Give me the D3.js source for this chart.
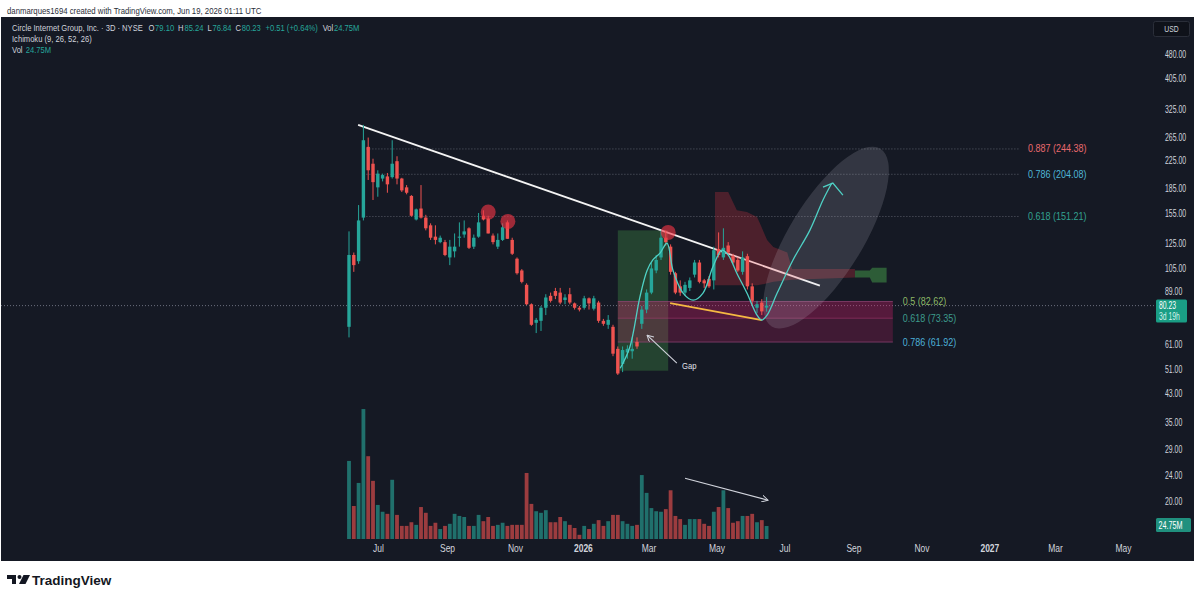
<!DOCTYPE html>
<html>
<head>
<meta charset="utf-8">
<script src="https://cdn.jsdelivr.net/npm/d3@7"></script>
<style>
html,body{margin:0;padding:0;background:#fff;}
svg{display:block;}
text{font-family:"Liberation Sans",Arial,sans-serif;}
</style>
</head>
<body>
<svg id="chart" width="1200" height="600"></svg>
<script>
// ---------------- DATA ----------------
const opens  = [69,115,110,150,248,220,186,198,201,200,224,198,186,175,148,160,150,142,131,126,126,113,118,130,133,139,122,131,152,149,132,122,128,145,128,112,103,93,81,71,72,79,86,89,88,83.5,87,81.5,79,79,84.5,78.5,82,72,70,69,59,53,57.5,58,62,70.5,78,88,103,113,130,122,101,92,88,91,100,109,96,97,96,120,113,123,114,111,102,114,92,79,82,79.10];
const highs  = [136,117,164,290,265,228,210,205,206,260,232,199,189,176,160,189,153,144,142,132,128,128,134,145,147,140,133,155,158,152,134,134,144,147,130,113,104,94,81.5,73.5,80,87,88,91,91,87,91,82,80,86,85,86,83,73,75,70,60,60,60.5,64,64,80,90,109,115,137,137,124,102,96,95,98,111,111,97,99,122,135,139,126,116,113,118,116,94,83,84,85.24];
const lows   = [64,102,108,147,196,170,174,194,179,198,190,180,177,151,147,149,137,128,124,125,114,107,113,122,130,120,120,130,147,134,124,120,127,129,115,100,94,80.5,69.5,66,67,75,82,84,81,81,81,78,77,78,78,77.5,71,69.5,68,56,49,50,55,55,59,68,76,87,101,111,123,100,87,86,86,89,98,94,91,91,90,113,111,116,108,102,100,90,80,76,75,76.84];
const closes = [115,107,147,260,210,193,205,203,190,220,198,182,179,152,159,150,139,130,128,130,115,122,122,131,136,121,130,145,148,134,126,128,140,129,116,101,95,81,70,72.5,79,85,83,86,82,85,82,79,78,84.5,81.5,84.5,72,70.5,72.5,57,49.5,58.5,59,59,60,78,88,104.5,111,130,126,102,88,88,93,96,109,95,94,92,119,115,121,117,109,103,113,92,83,81,77,80.23];
const volumes = [149,63,107,248,158,111,65,52,48,113,46,25,25,32,27,61,50,25,31,19,25,29,48,44,42,25,25,46,34,42,25,27,31,25,27,27,27,126,67,53,50,55,32,32,42,34,27,21,8,25,19,29,36,25,34,46,46,34,29,25,27,122,88,59,53,52,57,93,44,38,27,38,38,38,29,25,52,61,93,59,31,34,44,44,48,32,36,24.75];

const priceTicks = [480,405,325,265,225,185,155,125,105,89,61,51,43,35,29,24,20];
const timeTickDates  = ["2025-07-01","2025-09-01","2025-11-01","2026-01-01","2026-03-01","2026-05-01","2026-07-01","2026-09-01","2026-11-01","2027-01-01","2027-03-01","2027-05-01"];
const timeTickLabels = ["Jul","Sep","Nov","2026","Mar","May","Jul","Sep","Nov","2027","Mar","May"];

const upperFibLevels = [0.887,0.786,0.618];
const upperFibPrices = [244.38,204.08,151.21];
const lowerFibLevels = [0.5,0.618,0.786];
const lowerFibPrices = [82.62,73.35,61.92];

// annotation anchors in (bar index, price)
const trendLine   = [[1.9,290],[98.1,92.5]];
const supportLine = [[66.9,81.7],[86,72.4]];
const pivotCircles = [[29,156],[33.1,146],[66.5,135]];
const gapZone = [56,66.5,137,50.5];           // i0, i1, top, bottom
const retraceBox = [56,113.3];               // i0, i1
const upperFibSpan = [3,139.8];
const cloudRed = [[76.25,180,92.7],[79.0,180,92.7],[80.8,158,92.7],[82.9,156,92.7],[85.0,150.6,92.7],[85.6,144,93],[87.1,128,94],[88.4,121.6,95],[91.3,117,96],[92.3,104,96.5],[105.4,104,98]];
const cloudGreen = [[105.4,103,98],[108.5,103,98],[109,105,94.5],[112,105,94.5]];
const projectionPath = [[56.5,51.4],[58.5,59.7],[60.6,85.2],[62.1,103],[63.3,111],[64.8,116.5],[66.25,125],[67.5,103],[69.6,87.7],[71.7,83.4],[73.75,87.7],[75.8,105.5],[77.7,119],[79,115],[80.8,101],[82.9,87.7],[85,75],[86,72.4],[87.1,75],[89.2,87.7],[92.5,111],[96,137],[98.75,170],[100.6,191.8]];
const projectionHead = [[98.75,186.4],[100.8,191.8],[102.9,176]];
const ellipseAxis = [[88.06,69.2],[110.7,244.8]];
const gapArrow = [[68.3,53.3],[62.1,65]];
const gapLabel = [69.4,52.2];
const volArrow = [[70,116],[87.3,74]];

// ---------------- SETUP ----------------
const svg = d3.select("#chart");
const xBar  = d3.scaleLinear().domain([0, 87]).range([349, 766.6]);
const y     = d3.scaleLog().domain([20, 480]).range([501, 54]);
const yVol  = d3.scaleLinear().domain([0, 250]).range([539, 408]);
const parse = d3.timeParse("%Y-%m-%d");
const xTime = d3.scaleTime().domain([parse("2025-07-01"), parse("2027-05-01")]).range([378, 1123]);

const UP = "#26a69a", DOWN = "#ef5350";
const px = d => [xBar(d[0]), y(d[1])];

// text drawn inside a horizontally condensed group
function stxt(g,x,yy,s,sx,o={}){
  const gg=g.append("g").attr("transform",`translate(${x},${yy}) scale(${sx},1)`);
  const t=gg.append("text").attr("x",0).attr("y",0).text(s)
    .attr("font-size",o.size||9.5).attr("fill",o.fill||"#d1d4dc");
  if(o.weight) t.attr("font-weight",o.weight);
  if(o.anchor) t.attr("text-anchor",o.anchor);
  return t;
}

// page + panel
svg.append("rect").attr("width",1200).attr("height",600).attr("fill","#ffffff");
svg.append("rect").attr("x",1).attr("y",17).attr("width",1193).attr("height",544).attr("fill","#151924");

const defs = svg.append("defs");
defs.append("marker").attr("id","arrW").attr("viewBox","0 0 10 10").attr("refX",9).attr("refY",5)
   .attr("markerWidth",7).attr("markerHeight",7).attr("markerUnits","userSpaceOnUse").attr("orient","auto")
   .append("path").attr("d","M0,0 L9,5 L0,10").attr("fill","none").attr("stroke","#d1d4dc").attr("stroke-width",1.4);

const plot = svg.append("g");

// last price dotted line
plot.append("line").attr("x1",1).attr("x2",1155).attr("y1",y(closes[closes.length-1])).attr("y2",y(closes[closes.length-1]))
  .attr("stroke","#6a6f7c").attr("stroke-width",1).attr("stroke-dasharray","1,2");

// upper fib dotted lines
upperFibPrices.forEach(p=>{
  plot.append("line").attr("x1",xBar(upperFibSpan[0])).attr("x2",xBar(upperFibSpan[1]))
    .attr("y1",y(p)).attr("y2",y(p)).attr("stroke","#5a5e6a").attr("stroke-width",1).attr("stroke-dasharray","1,2");
});

// gap zone (green)
plot.append("rect").attr("x",xBar(gapZone[0])).attr("width",xBar(gapZone[1])-xBar(gapZone[0]))
  .attr("y",y(gapZone[2])).attr("height",y(gapZone[3])-y(gapZone[2]))
  .attr("fill","rgba(76,175,80,0.28)");

// retracement box
const bandFill = ["rgba(220,30,110,0.33)","rgba(220,30,110,0.22)"];
for(let k=0;k<lowerFibPrices.length-1;k++){
  plot.append("rect").attr("x",xBar(retraceBox[0])).attr("width",xBar(retraceBox[1])-xBar(retraceBox[0]))
    .attr("y",y(lowerFibPrices[k])).attr("height",y(lowerFibPrices[k+1])-y(lowerFibPrices[k]))
    .attr("fill",bandFill[k]);
}
lowerFibPrices.forEach((p,k)=>{
  plot.append("line").attr("x1",xBar(retraceBox[0])).attr("x2",xBar(retraceBox[1]))
   .attr("y1",y(p)).attr("y2",y(p)).attr("stroke",k==1?"rgba(180,60,120,0.5)":"rgba(150,70,120,0.7)").attr("stroke-width",1);
});

// trend line (under cloud)
plot.append("line").attr("x1",px(trendLine[0])[0]).attr("y1",px(trendLine[0])[1])
  .attr("x2",px(trendLine[1])[0]).attr("y2",px(trendLine[1])[1])
  .attr("stroke","#f4f4f4").attr("stroke-width",1.8);

// ichimoku cloud
const area = d3.area().x(d=>xBar(d[0])).y0(d=>y(d[2])).y1(d=>y(d[1]));
plot.append("path").attr("d",area(cloudRed)).attr("fill","rgba(242,54,69,0.25)");
plot.append("path").attr("d",area(cloudGreen)).attr("fill","rgba(76,175,80,0.45)");

// projection ellipse
{
  const a = px(ellipseAxis[0]), b = px(ellipseAxis[1]);
  const cx=(a[0]+b[0])/2, cy=(a[1]+b[1])/2;
  const rx=Math.hypot(b[0]-a[0],b[1]-a[1])/2;
  const ang=Math.atan2(b[1]-a[1],b[0]-a[0])*180/Math.PI;
  plot.append("ellipse").attr("cx",cx).attr("cy",cy).attr("rx",rx).attr("ry",37)
    .attr("transform",`rotate(${ang},${cx},${cy})`)
    .attr("fill","rgba(210,212,222,0.16)");
}

// volume
plot.selectAll(".vol").data(volumes).enter().append("rect")
  .attr("x",(d,i)=>xBar(i)-1.9).attr("width",3.8)
  .attr("y",d=>yVol(d)).attr("height",d=>yVol(0)-yVol(d))
  .attr("fill",(d,i)=>closes[i]>=opens[i]?UP:DOWN).attr("opacity",0.62);

// candles
const cg = plot.selectAll(".c").data(opens).enter().append("g");
cg.append("line").attr("x1",(d,i)=>xBar(i)).attr("x2",(d,i)=>xBar(i))
  .attr("y1",(d,i)=>y(highs[i])).attr("y2",(d,i)=>y(lows[i]))
  .attr("stroke",(d,i)=>closes[i]>=opens[i]?UP:DOWN).attr("stroke-width",1);
cg.append("rect").attr("x",(d,i)=>xBar(i)-1.7).attr("width",3.4)
  .attr("y",(d,i)=>y(Math.max(opens[i],closes[i])))
  .attr("height",(d,i)=>Math.max(1,Math.abs(y(opens[i])-y(closes[i]))))
  .attr("fill",(d,i)=>closes[i]>=opens[i]?UP:DOWN);

// pivot circles
pivotCircles.forEach(d=>{
  plot.append("circle").attr("cx",px(d)[0]).attr("cy",px(d)[1]).attr("r",7.5).attr("fill","rgba(242,54,69,0.62)");
});

// support line
plot.append("line").attr("x1",px(supportLine[0])[0]).attr("y1",px(supportLine[0])[1])
  .attr("x2",px(supportLine[1])[0]).attr("y2",px(supportLine[1])[1])
  .attr("stroke","#f5b942").attr("stroke-width",1.8);

// projection curve
plot.append("path").attr("d",d3.line().x(d=>xBar(d[0])).y(d=>y(d[1])).curve(d3.curveCatmullRom.alpha(0.5))(projectionPath))
  .attr("fill","none").attr("stroke","#4fd1c5").attr("stroke-width",1.3);
plot.append("path").attr("d",d3.line().x(d=>xBar(d[0])).y(d=>y(d[1]))(projectionHead))
  .attr("fill","none").attr("stroke","#4fd1c5").attr("stroke-width",1.3);

// gap arrow + label
plot.append("line").attr("x1",px(gapArrow[0])[0]).attr("y1",px(gapArrow[0])[1])
  .attr("x2",px(gapArrow[1])[0]).attr("y2",px(gapArrow[1])[1])
  .attr("stroke","#d1d4dc").attr("stroke-width",1.1).attr("marker-end","url(#arrW)");
stxt(plot, xBar(gapLabel[0]), y(gapLabel[1])+3, "Gap", 0.85, {size:9, fill:"#e0e3eb"});

// volume arrow
plot.append("line").attr("x1",xBar(volArrow[0][0])).attr("y1",yVol(volArrow[0][1]))
  .attr("x2",xBar(volArrow[1][0])).attr("y2",yVol(volArrow[1][1]))
  .attr("stroke","#d1d4dc").attr("stroke-width",1.1).attr("marker-end","url(#arrW)");

// fib labels
const upperFibColors=["#ea6a6e","#4fb6d8","#33a290"];
upperFibPrices.forEach((p,k)=>{
  stxt(plot, xBar(upperFibSpan[1])+8, y(p)+3.5, `${upperFibLevels[k]} (${p.toFixed(2)})`, 0.9, {size:10, fill:upperFibColors[k]});
});
const lowerFibColors=["#8cb866","#3d9c8c","#4cb0d8"];
lowerFibPrices.forEach((p,k)=>{
  stxt(plot, xBar(retraceBox[1])+10, y(p)+3.5, `${lowerFibLevels[k]} (${p.toFixed(2)})`, 0.9, {size:10, fill:lowerFibColors[k]});
});

// ---------------- AXES ----------------
const gy = svg.append("g").attr("transform","translate(1165,0)")
  .call(d3.axisRight(y).tickValues(priceTicks).tickFormat(d3.format(".2f")).tickSize(0).tickPadding(0));
gy.select(".domain").remove();
gy.selectAll("text").attr("fill","#d1d4dc").attr("font-size",10.5)
  .attr("font-family","Liberation Sans, Arial, sans-serif").attr("text-anchor","start")
  .attr("transform","scale(0.66,1)");

const gx = svg.append("g").attr("transform","translate(0,545)")
  .call(d3.axisBottom(xTime).tickValues(timeTickDates.map(parse)).tickFormat((d,i)=>timeTickLabels[i]).tickSize(0).tickPadding(0));
gx.select(".domain").remove();
gx.selectAll("text").attr("fill","#d1d4dc").attr("font-size",10)
  .attr("font-family","Liberation Sans, Arial, sans-serif")
  .attr("font-weight",(d,i)=>/^\d{4}$/.test(timeTickLabels[i])?"bold":"normal")
  .attr("transform","scale(0.85,1)");

// USD box
svg.append("rect").attr("x",1153.5).attr("y",21.5).attr("width",36).attr("height",15).attr("rx",2)
  .attr("fill","#0f121a").attr("stroke","#2a2e39");
stxt(svg,1171.5,32,"USD",0.8,{size:8.5,anchor:"middle"});

// last price label
const lastY = y(closes[closes.length-1]);
svg.append("rect").attr("x",1156).attr("y",lastY-6).attr("width",31).attr("height",23).attr("rx",1.5).attr("fill","#1a9e85");
stxt(svg,1159,lastY+3.5,d3.format(".2f")(closes[closes.length-1]),0.68,{size:10,fill:"#ffffff"});
stxt(svg,1159,lastY+14.5,"3d 19h",0.68,{size:10,fill:"#d7f3ec"});

// last volume label
const lastV = yVol(volumes[volumes.length-1]);
svg.append("rect").attr("x",1156).attr("y",lastV-8).attr("width",35).attr("height",14).attr("rx",1.5).attr("fill","#20907e");
stxt(svg,1158.5,lastV+2.5,"24.75M",0.72,{size:10,fill:"#ffffff"});

// ---------------- HEADER / LEGEND ----------------
stxt(svg,7,13.5,"danmarques1694 created with TradingView.com, Jun 19, 2026 01:11 UTC",0.82,{size:9.5,fill:"#2a2e39"});

const G="#26a69a", Wt="#d1d4dc";
function legendLine(x,yy,parts,sx){
  const gg=svg.append("g").attr("transform",`translate(${x},${yy}) scale(${sx},1)`);
  const t=gg.append("text").attr("x",0).attr("y",0).attr("font-size",9.5);
  parts.forEach(p=>t.append("tspan").attr("dx",p[2]||0).attr("fill",p[1]).text(p[0]));
}
const f2=d3.format(".2f");
legendLine(12,30.5,[
  ["Circle Internet Group, Inc. · 3D · NYSE",Wt],
  ["O",Wt,7],[f2(opens[opens.length-1]),G,1],
  ["H",Wt,5],[f2(highs[highs.length-1]),G,1],
  ["L",Wt,5],[f2(lows[lows.length-1]),G,1],
  ["C",Wt,5],[f2(closes[closes.length-1]),G,1],
  ["+0.51 (+0.64%)",G,6],
  ["Vol",Wt,6],["24.75M",G,1]
],0.8);
legendLine(12,42,[["Ichimoku (9, 26, 52, 26)",Wt]],0.8);
legendLine(12,53,[["Vol",Wt],["24.75M",G,4]],0.8);

// ---------------- LOGO ----------------
const lg = svg.append("g").attr("transform","translate(7,575)");
lg.append("path").attr("d","M0 0 H9 V9 H5 V4 H0 Z").attr("fill","#131722");
lg.append("circle").attr("cx",12.5).attr("cy",2).attr("r",2).attr("fill","#131722");
lg.append("path").attr("d","M16.5 0 H23 L18.5 9 H12 Z").attr("fill","#131722");
stxt(svg,32,584.5,"TradingView",1.0,{size:13.5,fill:"#131722",weight:600});
</script>
</body>
</html>
